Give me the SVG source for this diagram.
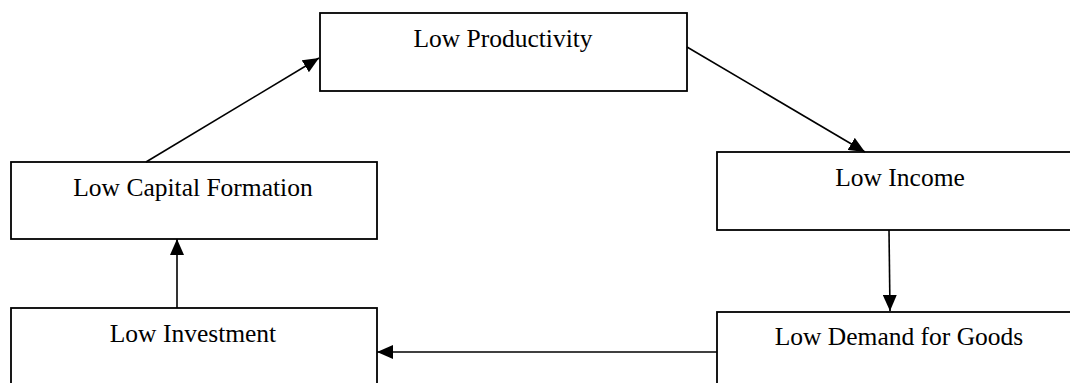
<svg xmlns="http://www.w3.org/2000/svg" width="1070" height="383" viewBox="0 0 1070 383">
<style>
.box{fill:#fff;stroke:#000;stroke-width:1.8}
.lbl{font-family:"Liberation Serif","Times New Roman",serif;font-size:25.5px;fill:#000;text-anchor:middle}
.conn{stroke:#000;stroke-width:1.6;fill:none;marker-end:url(#ah)}
</style>
<defs>
<marker id="ah" markerUnits="userSpaceOnUse" markerWidth="16" markerHeight="14" viewBox="0 0 16 14" refX="16" refY="7" orient="auto">
<path d="M0,0 L16,7 L0,14 Z" fill="#000"/>
</marker>
</defs>
<rect width="1070" height="383" fill="#fff"/>
<g id="n-productivity"><rect class="box" x="320" y="13" width="367" height="78"/><text class="lbl" x="503" y="47">Low Productivity</text></g>
<g id="n-capital"><rect class="box" x="11" y="162" width="366" height="77"/><text class="lbl" x="193" y="196">Low Capital Formation</text></g>
<g id="n-income"><rect class="box" x="717" y="152" width="380" height="78"/><text class="lbl" x="900" y="186">Low Income</text></g>
<g id="n-investment"><rect class="box" x="11" y="308" width="366" height="90"/><text class="lbl" x="193" y="342">Low Investment</text></g>
<g id="n-demand"><rect class="box" x="717" y="312" width="380" height="90"/><text class="lbl" x="899" y="345">Low Demand for Goods</text></g>
<g id="connectors">
<line class="conn" x1="146" y1="162" x2="319" y2="58"/>
<line class="conn" x1="687" y1="47" x2="865" y2="152"/>
<line class="conn" x1="889" y1="230" x2="890" y2="311"/>
<line class="conn" x1="717" y1="352" x2="377" y2="352"/>
<line class="conn" x1="177" y1="308" x2="177" y2="239"/>
</g>
</svg>
